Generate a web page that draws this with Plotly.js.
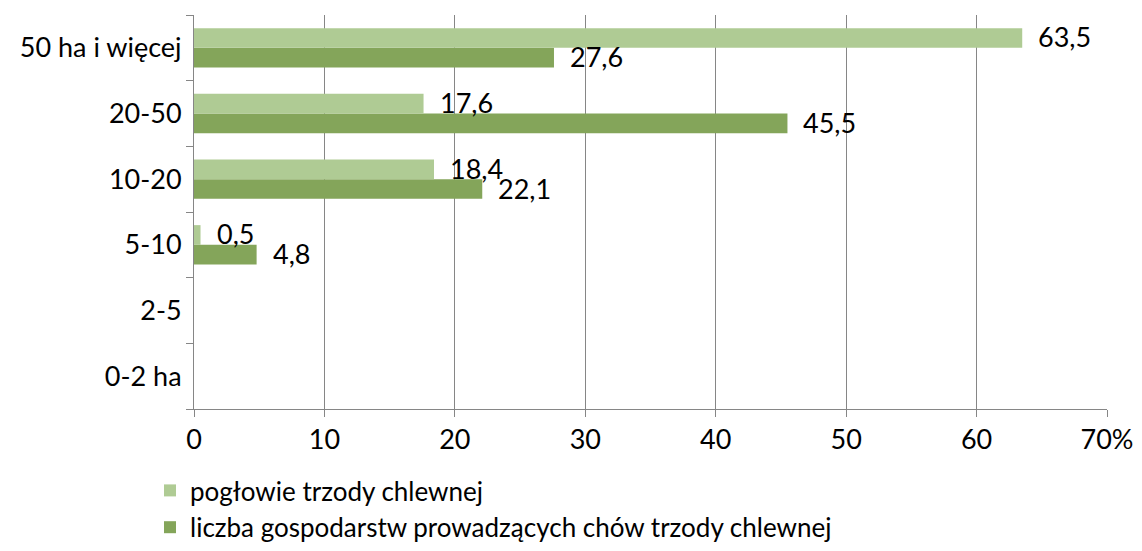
<!DOCTYPE html>
<html><head><meta charset="utf-8">
<script src="https://cdn.plot.ly/plotly-3.0.1.min.js"></script>
<style>html,body{margin:0;padding:0;background:#fff}#chart{width:1142px;height:551px}</style>
</head><body><div id="chart"></div>
<script>
const categories = ["0-2 ha", "2-5", "5-10", "10-20", "20-50", "50 ha i więcej"];
const poglowie = [null, null, 0.5, 18.4, 17.6, 63.5];
const gospodarstwa = [null, null, 4.8, 22.1, 45.5, 27.6];
const seriesNames = ["pogłowie trzody chlewnej", "liczba gospodarstw prowadzących chów trzody chlewnej"];
const tickVals = [0, 10, 20, 30, 40, 50, 60, 70];
const tickText = ["0", "10", "20", "30", "40", "50", "60", "70%"];

const FONT = "Lato, 'Open Sans', sans-serif";
const FS = 27;
const fmt = v => v.toFixed(1).replace('.', ',');

const traces = [
  {type:'bar', orientation:'h', name:seriesNames[1], y:categories, x:gospodarstwa,
   marker:{color:'#84A55A'}, hoverinfo:'none'},
  {type:'bar', orientation:'h', name:seriesNames[0], y:categories, x:poglowie,
   marker:{color:'#AFCB94'}, hoverinfo:'none'}
];

const annotations = [];
categories.forEach((c, i) => {
  if (poglowie[i] != null) annotations.push({x:poglowie[i], y:c, text:fmt(poglowie[i]), showarrow:false,
    xanchor:'left', yanchor:'middle', xshift:14, yshift:11, font:{family:FONT, size:FS, color:'#000'}});
  if (gospodarstwa[i] != null) annotations.push({x:gospodarstwa[i], y:c, text:fmt(gospodarstwa[i]), showarrow:false,
    xanchor:'left', yanchor:'middle', xshift:14, yshift:-9, font:{family:FONT, size:FS, color:'#000'}});
});

const layout = {
  width:1142, height:551,
  margin:{l:193.5, r:34.5, t:15, b:141.7, autoexpand:false},
  paper_bgcolor:'#fff', plot_bgcolor:'#fff',
  barmode:'group', bargap:0.4, bargroupgap:0,
  font:{family:FONT, size:FS, color:'#000'},
  showlegend:true,
  legend:{orientation:'v', traceorder:'reversed', x:150/1142, xanchor:'left', xref:'container',
    y:1-467/551, yanchor:'top', yref:'container',
    font:{family:FONT, size:26, color:'#000'}, itemwidth:30, tracegroupgap:0, bgcolor:'rgba(0,0,0,0)'},
  xaxis:{range:[0,70], tickvals:tickVals, ticktext:tickText, showgrid:true, gridcolor:'#868686', gridwidth:1,
    showline:true, linecolor:'#868686', linewidth:1, ticks:'outside', ticklen:7, tickcolor:'#868686',
    zeroline:false, tickfont:{family:FONT, size:FS}, automargin:false, fixedrange:true},
  yaxis:{type:'category', categoryorder:'array', categoryarray:categories, showline:true, linecolor:'#868686',
    linewidth:1, ticks:'outside', ticklen:7, tickcolor:'#868686', tickson:'boundaries', showgrid:false,
    tickfont:{family:FONT, size:FS}, ticklabelstandoff:6, automargin:false, fixedrange:true},
  annotations:annotations
};

Plotly.newPlot('chart', traces, layout, {displayModeBar:false, staticPlot:true});
</script></body></html>
